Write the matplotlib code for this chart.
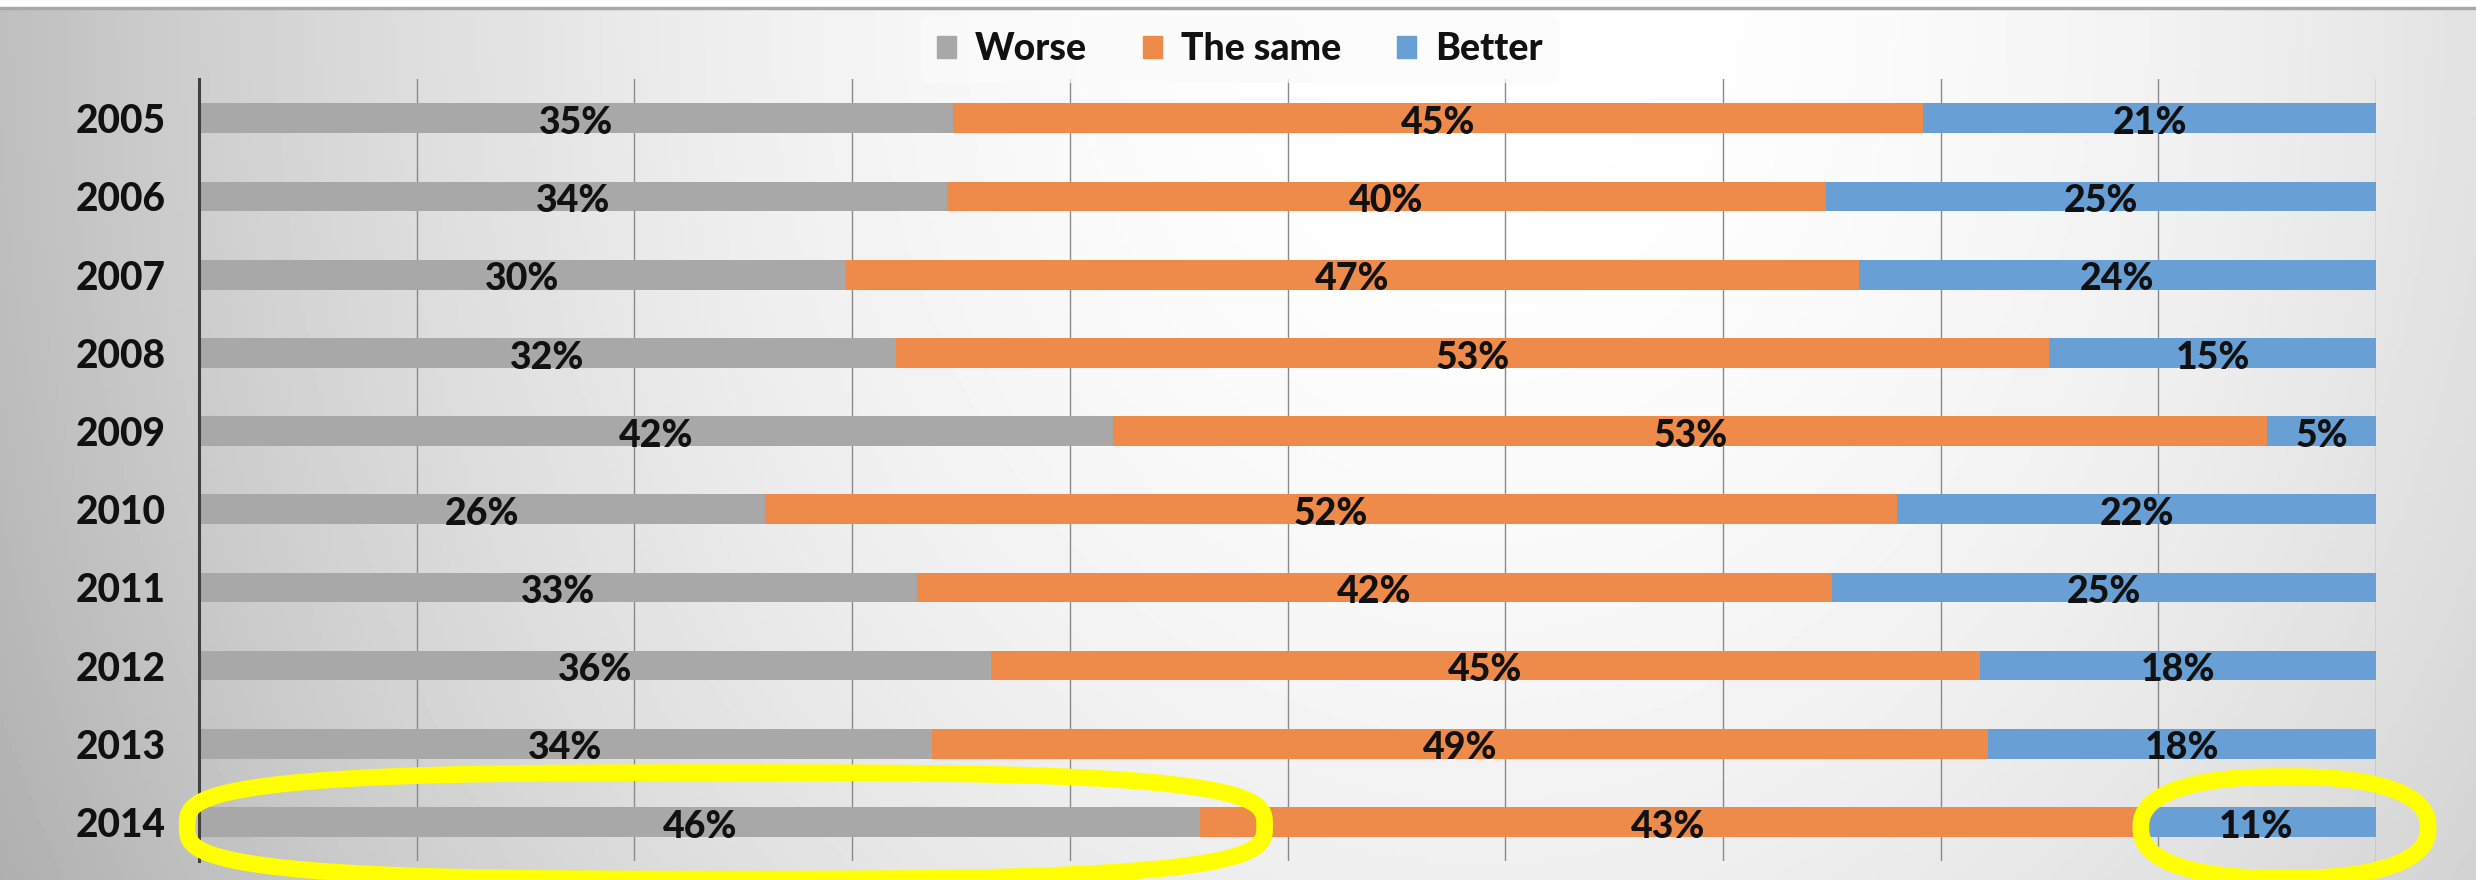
import numpy as np
import matplotlib.pyplot as plt
from matplotlib.patches import Patch, PathPatch
from matplotlib.path import Path

# data
years = ['2005', '2006', '2007', '2008', '2009', '2010', '2011', '2012', '2013', '2014']
worse = [35, 34, 30, 32, 42, 26, 33, 36, 34, 46]
same = [45, 40, 47, 53, 53, 52, 42, 45, 49, 43]
better = [21, 25, 24, 15, 5, 22, 25, 18, 18, 11]

series_names = ['Worse', 'The same', 'Better']
colors = ['#A8A8A8', '#EE8A4A', '#68A0D6']

plt.rcParams['font.family'] = ['Lato', 'DejaVu Sans']


def blob(cx, cy, w, h, p):
    # superellipse outline for the hand-drawn highlight
    t = np.linspace(0, 2 * np.pi, 200)
    c, s = np.cos(t), np.sin(t)
    x = cx + w / 2 * np.sign(c) * np.abs(c) ** (2 / p)
    y = cy + h / 2 * np.sign(s) * np.abs(s) ** (2 / p)
    return Path(np.column_stack([x, y]), closed=True)


fig = plt.figure(figsize=(24.76, 8.8), dpi=100)

# gradient background
bg = fig.add_axes([0, 0, 1, 1], zorder=-10)
gx, gy = np.meshgrid(np.linspace(0, 1, 600), np.linspace(0, 1, 220))
d = np.sqrt(((gx - 0.60) / 0.56) ** 2 + ((gy - 0.0) / 1.9) ** 2)
shade = np.clip(1.0 - 0.22 * d ** 2.0, 0, 1)
bg.imshow(shade, cmap='gray', vmin=0, vmax=1, aspect='auto', extent=[0, 1, 1, 0])
bg.axhline(0.009, color='#a8a8a8', lw=2.5)
bg.axhspan(0, 0.008, color='white')
bg.set_xlim(0, 1)
bg.set_ylim(1, 0)
bg.axis('off')

ax = fig.add_axes([0.0804, 0.0216, 0.8792, 0.8884])
ax.set_facecolor('none')

vals = np.array([worse, same, better], dtype=float)
shares = vals / vals.sum(axis=0)
y = np.arange(len(years))

left = np.zeros(len(years))
for i in range(3):
    bars = ax.barh(y, shares[i], left=left, height=0.38, color=colors[i],
                   label=series_names[i], zorder=2)
    for j, b in enumerate(bars):
        ax.text(left[j] + shares[i][j] / 2, y[j] + 0.06, f'{int(vals[i][j])}%',
                ha='center', va='center', fontsize=27, fontweight='black',
                color='#111111', zorder=3)
    left += shares[i]

ax.set_xlim(0, 1)
ax.set_ylim(len(years) - 0.5, -0.5)
ax.set_xticks(np.linspace(0, 1, 11))
ax.set_xticklabels([])
ax.tick_params(axis='x', length=0)
ax.tick_params(axis='y', length=0, pad=24)
ax.set_yticks(y)
ax.set_yticklabels(years, fontsize=28, fontweight='black', color='#111111')
ax.grid(axis='x', color='#8a8a8a', lw=1, zorder=0)
for s in ['top', 'right', 'bottom']:
    ax.spines[s].set_visible(False)
ax.spines['left'].set_color('#404040')
ax.spines['left'].set_linewidth(2.2)

handles = [Patch(color=c) for c in colors]
leg = fig.legend(handles, series_names, loc='center', bbox_to_anchor=(0.5008, 0.944),
                 ncol=3, frameon=True, handlelength=0.5, handleheight=0.5,
                 handletextpad=0.5, columnspacing=1.5, borderpad=0.45,
                 prop={'weight': 'black', 'size': 27})
leg.get_frame().set_facecolor('#fbfbfb')
leg.get_frame().set_edgecolor('none')
leg.get_frame().set_alpha(0.7)
for t in leg.get_texts():
    t.set_color('#111111')

# yellow highlight marks around 2014
ax.add_patch(PathPatch(blob(0.242, 9.05, 0.495, 1.36, 3.2), fill=False, ec='#FFFF00',
                       lw=12, clip_on=False, zorder=4))
ax.add_patch(PathPatch(blob(0.958, 9.07, 0.132, 1.30, 2.4), fill=False, ec='#FFFF00',
                       lw=12, clip_on=False, zorder=4))

fig.savefig('out.png', dpi=100)
